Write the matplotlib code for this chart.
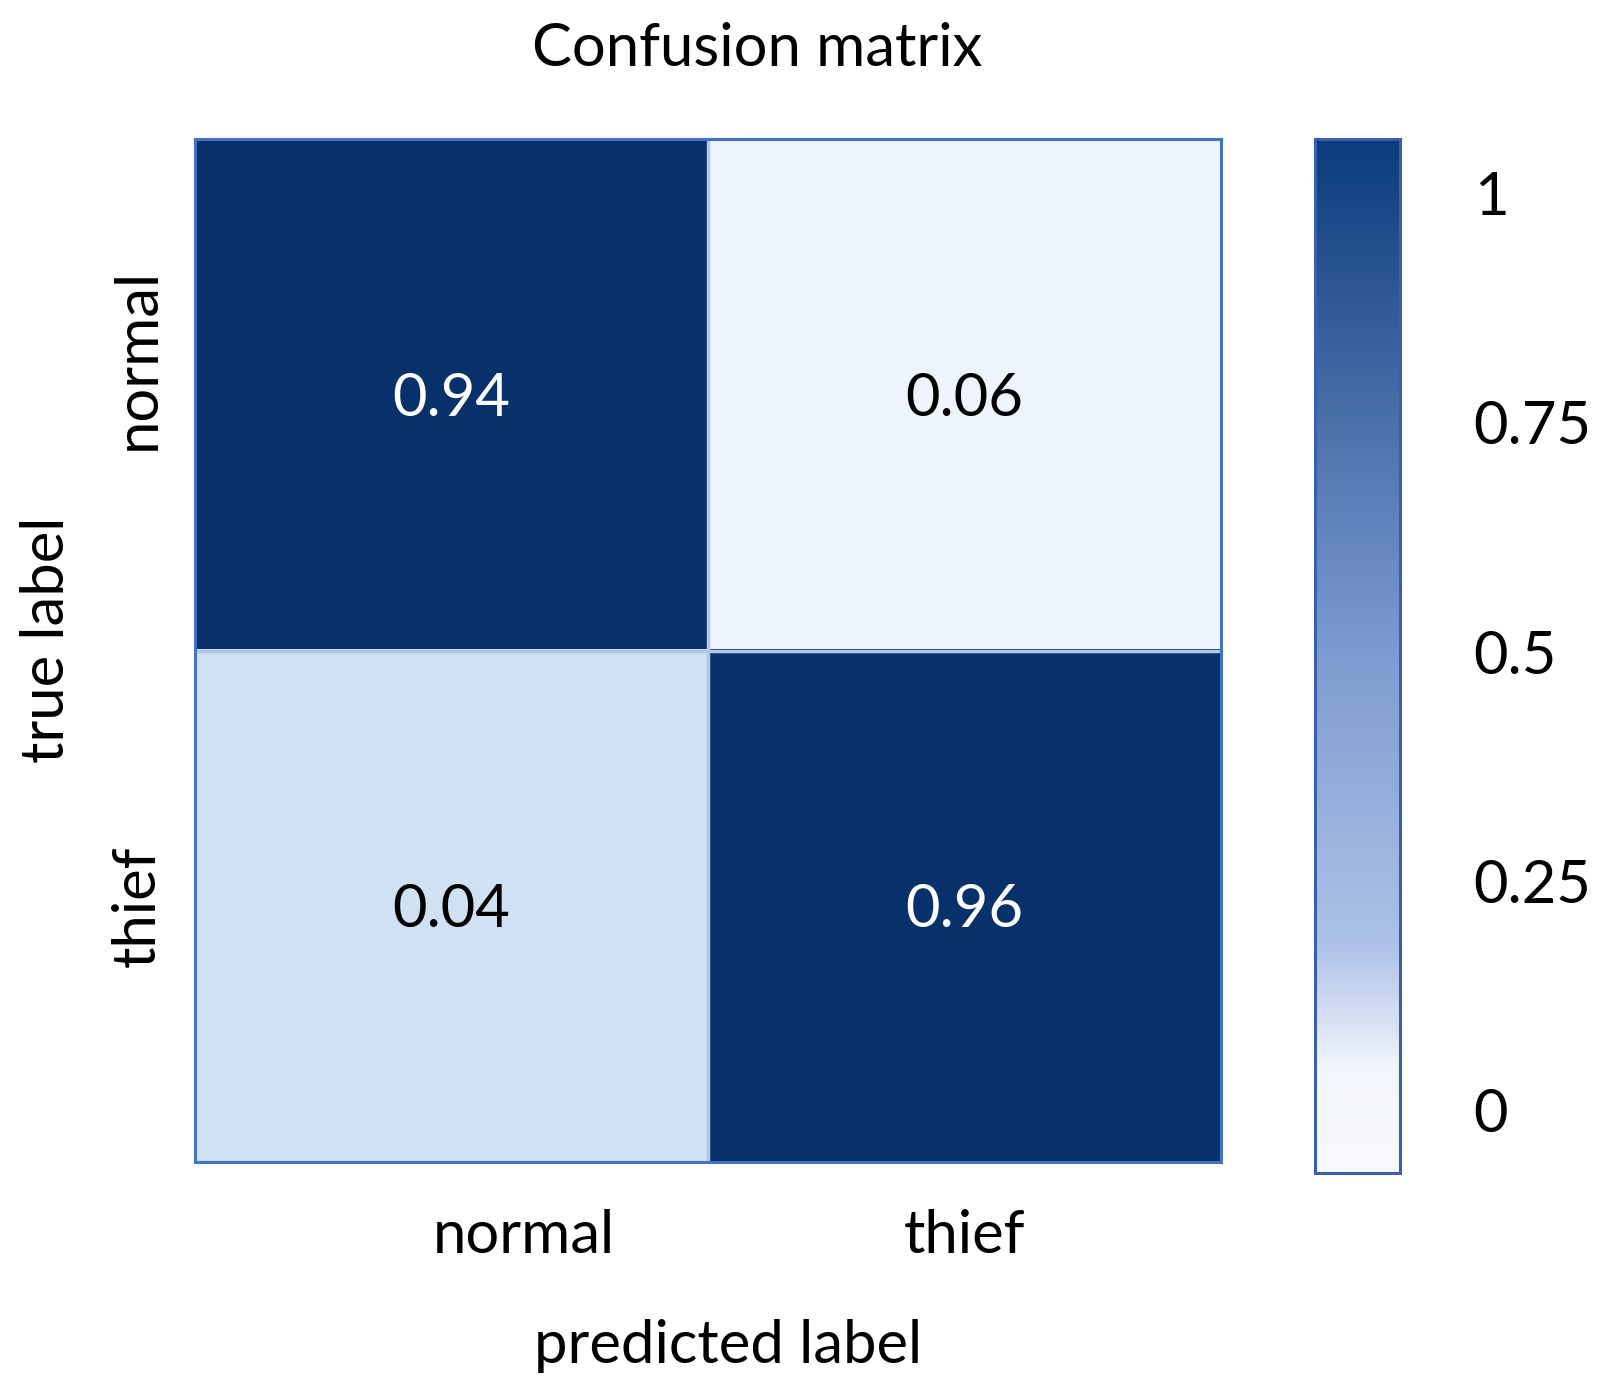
import numpy as np
import matplotlib
matplotlib.use("Agg")
import matplotlib.pyplot as plt
from matplotlib.colors import LinearSegmentedColormap, Normalize
from matplotlib.cm import ScalarMappable

plt.rcParams['font.family'] = ['Lato', 'DejaVu Sans']

# ---- data ----
classes = ["normal", "thief"]
values = np.array([[0.94, 0.06],
                   [0.04, 0.96]])
# colour intensity of each cell as it appears (Blues scale)
shade = np.array([[1.00, 0.05],
                  [0.20, 1.00]])
cbar_ticks = [0, 0.25, 0.5, 0.75, 1]
cbar_ticklabels = ["0", "0.25", "0.5", "0.75", "1"]
cbar_range = (-0.069, 1.059)

FS = 43

fig = plt.figure(figsize=(16.11, 13.93), dpi=100)
ax = fig.add_axes([0.121, 0.1658, 0.637, 0.7344])
ax.imshow(shade, cmap="Blues", vmin=0, vmax=1, aspect="auto", interpolation="nearest")

for i in range(values.shape[0]):
    for j in range(values.shape[1]):
        ax.text(j, i + 0.008, f"{values[i, j]:.2f}", ha="center", va="center",
                fontsize=FS, color="white" if shade[i, j] > 0.5 else "black")

ax.axhline(0.5, color="#b4c6e8", lw=2.5)
ax.axvline(0.5, color="#b4c6e8", lw=2.5)
for s in ax.spines.values():
    s.set_color("#4472c4")
    s.set_linewidth(2.2)

ax.set_xticks([0.14, 1.0])
ax.set_xticklabels(classes, fontsize=FS)
ax.set_yticks([-0.07, 1.0])
ax.set_yticklabels(classes, fontsize=FS, rotation=90, va="center")
ax.tick_params(axis="x", length=0, pad=34)
ax.tick_params(axis="y", length=0, pad=22)
ax.set_xlim(-0.5, 1.5)
ax.set_ylim(1.5, -0.5)

ax.set_xlabel("predicted label", fontsize=FS)
ax.xaxis.set_label_coords(0.52, -0.153)
ax.set_ylabel("true label", fontsize=FS)
ax.yaxis.set_label_coords(-0.118, 0.51)
fig.text(0.47, 0.965, "Confusion matrix", ha="center", va="center", fontsize=FS)

# ---- colorbar ----
cax = fig.add_axes([0.8163, 0.158, 0.0528, 0.742])
lo, hi = cbar_range
nodes = [(-0.069, "#f6f8fc"), (0.04, "#f3f6fc"), (0.12, "#cbd7ef"), (0.18, "#adc1e6"),
         (0.5, "#7c9bd0"), (0.75, "#4b70aa"), (1.059, "#0b3b7b")]
cmap_cb = LinearSegmentedColormap.from_list(
    "cb", [((v - lo) / (hi - lo), c) for v, c in nodes])
sm = ScalarMappable(norm=Normalize(lo, hi), cmap=cmap_cb)
cb = fig.colorbar(sm, cax=cax, ticks=cbar_ticks)
cb.ax.set_yticklabels(cbar_ticklabels, fontsize=FS)
cb.ax.tick_params(length=0, pad=53)
cb.outline.set_edgecolor("#3a5fae")
cb.outline.set_linewidth(2.2)

fig.savefig("out.png", dpi=100, facecolor="white")
